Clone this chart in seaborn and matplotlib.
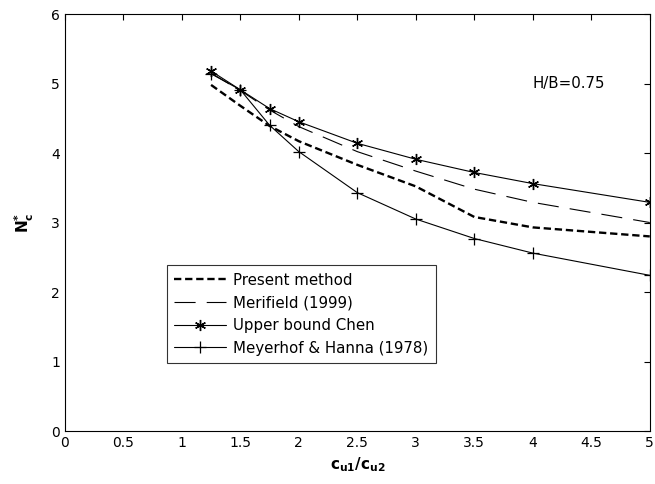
import numpy as np
import pandas as pd
import matplotlib
matplotlib.use("Agg")
import matplotlib.pyplot as plt
import seaborn as sns

# values
ratio = [1.25, 1.5, 1.75, 2.0, 2.5, 3.0, 3.5, 4.0, 5.0]
present = [4.98, 4.68, 4.39, 4.17, 3.83, 3.52, 3.08, 2.93, 2.80]
merifield = [5.15, 4.90, 4.62, 4.38, 4.02, 3.74, 3.48, 3.29, 3.00]
chen = [5.18, 4.91, 4.64, 4.45, 4.14, 3.91, 3.72, 3.56, 3.29]
meyerhof = [5.14, 4.91, 4.40, 4.02, 3.43, 3.05, 2.77, 2.56, 2.24]

labels = ["Present method", "Merifield (1999)", "Upper bound Chen",
          "Meyerhof & Hanna (1978)"]
xticks = ["0", "0.5", "1", "1.5", "2", "2.5", "3", "3.5", "4", "4.5", "5"]

df = pd.DataFrame({"ratio": ratio * 4,
                   "Nc": present + merifield + chen + meyerhof,
                   "method": np.repeat(labels, len(ratio))})

sns.set_style("white", {"text.color": "black", "axes.labelcolor": "black",
                        "xtick.color": "black", "ytick.color": "black"})
plt.rcParams['font.family'] = ['DejaVu Sans']
plt.rcParams['font.size'] = 10

fig = plt.figure(figsize=(6.55, 4.84), dpi=100)
ax = fig.add_axes([0.099, 0.1095, 0.893, 0.8615])

styles = {
    labels[0]: dict(linestyle=(0, (3.1, 1.6)), linewidth=1.7, marker=None),
    labels[1]: dict(linestyle=(0, (19, 10)), linewidth=0.8, marker=None),
    labels[2]: dict(linestyle='-', linewidth=0.8, marker=(6, 2, 0), markersize=8,
                    markeredgewidth=1.0),
    labels[3]: dict(linestyle='-', linewidth=0.8, marker='+', markersize=8,
                    markeredgewidth=0.9),
}

for lab in labels:
    sub = df[df["method"] == lab]
    sns.lineplot(data=sub, x="ratio", y="Nc", ax=ax, color='black', label=lab,
                 markeredgecolor='black', **styles[lab])

ax.set_xlim(0, 5)
ax.set_ylim(0, 6)
ax.set_xticks(np.arange(0, 5.01, 0.5))
ax.set_xticklabels(xticks)
ax.set_yticks(range(0, 7))
ax.tick_params(direction='in', length=4, top=True, right=True, width=0.8,
               labelsize=10, colors='black')
for s in ax.spines.values():
    s.set_color('black')
    s.set_linewidth(0.8)

ax.set_xlabel(r"$\mathbf{c_{u1}/c_{u2}}$", fontsize=11, labelpad=4)
ax.set_ylabel(r"$\mathbf{N^{*}_{c}}$", fontsize=11, labelpad=11)

ax.text(4.0, 5.0, "H/B=0.75", fontsize=10.8, va='center', color='black')

leg = ax.legend(loc='lower left', bbox_to_anchor=(0.174, 0.163), frameon=True,
                fancybox=False, edgecolor='black', handlelength=3.47,
                handletextpad=0.47, borderpad=0.5, labelspacing=0.51,
                borderaxespad=0, fontsize=10.8)
leg.get_frame().set_linewidth(0.8)
for t in leg.get_texts():
    t.set_color('black')

fig.savefig("out.png", dpi=100)
